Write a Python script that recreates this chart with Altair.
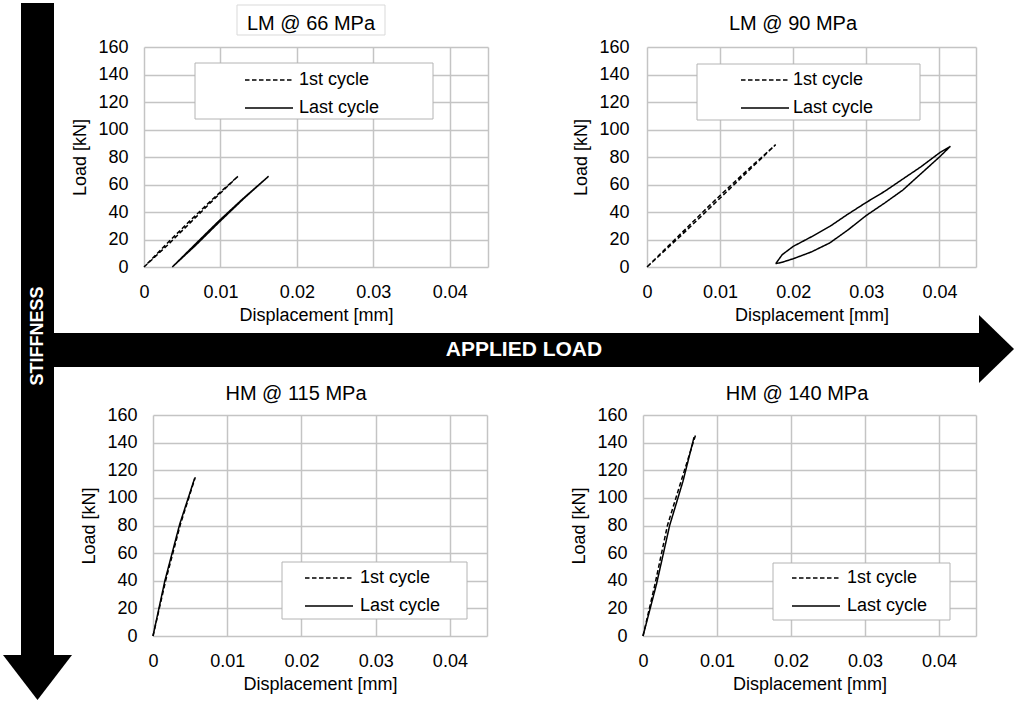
import altair as alt
import pandas as pd

FONT = "Liberation Sans"

CYCLES = ["1st cycle", "Last cycle"]
PANEL_TITLES = ["LM @ 66 MPa", "LM @ 90 MPa", "HM @ 115 MPa", "HM @ 140 MPa"]
X_TICKS = [0, 0.01, 0.02, 0.03, 0.04, 0.045]
Y_TICKS = [0, 20, 40, 60, 80, 100, 120, 140, 160]
ARROW_LABELS = ["APPLIED LOAD", "STIFFNESS"]

# LM @ 66 MPa
lm66_first_disp = [0.0000, 0.0031, 0.0062, 0.0093, 0.0123, 0.0091, 0.0059, 0.0028, 0.0000]
lm66_first_load = [0, 16, 33, 50, 66, 50, 33, 16, 0]
lm66_last_disp = [0.0037, 0.0068, 0.0099, 0.0131, 0.0163, 0.0130, 0.0097, 0.0066, 0.0037]
lm66_last_load = [0, 16, 33, 50, 66, 50, 33, 16, 0]

# LM @ 90 MPa
lm90_first_disp = [0.0000, 0.0045, 0.0090, 0.0133, 0.0176, 0.0130, 0.0086, 0.0042, 0.0000]
lm90_first_load = [0, 22, 45, 67, 89, 67, 45, 22, 0]
lm90_last_disp = [0.0176, 0.0185, 0.0200, 0.0225, 0.0250, 0.0275, 0.0300, 0.0325, 0.0350, 0.0375, 0.0400, 0.0415,
                  0.0400, 0.0375, 0.0350, 0.0325, 0.0300, 0.0275, 0.0250, 0.0225, 0.0200, 0.0185, 0.0176]
lm90_last_load = [2.4, 9, 15, 22, 29.5, 38.5, 47, 55, 64, 73, 83, 87.8,
                  80, 68, 56, 46.5, 37.5, 27, 17.5, 11, 6, 3.5, 2.4]

# HM @ 115 MPa
hm115_first_disp = [0.0000, 0.0017, 0.0037, 0.0057]
hm115_first_load = [0, 40, 81, 115]
hm115_last_disp = [0.0000, 0.0016, 0.0036, 0.0056]
hm115_last_load = [0, 40, 81, 114]

# HM @ 140 MPa
hm140_first_disp = [0.0000, 0.0016, 0.0033, 0.0052, 0.0071]
hm140_first_load = [0, 37, 80, 113, 145.5]
hm140_last_disp = [0.0000, 0.0018, 0.0036, 0.0054, 0.0069]
hm140_last_load = [0, 37, 80, 112, 144]

one = pd.DataFrame({"k": [0]})


def cycle_frame(disp, load, cycle):
    return pd.DataFrame({"disp": disp, "load": load, "cycle": cycle,
                         "step": list(range(len(disp)))})


def panel(title, first, last, width, height, x_range, y_offset, y_label_pad,
          title_pos, box, leg, x_title_x):
    df = pd.concat([cycle_frame(first[0], first[1], CYCLES[0]),
                    cycle_frame(last[0], last[1], CYCLES[1])], ignore_index=True)
    legend = alt.Legend(
        title=None, orient="none", legendX=leg[0], legendY=leg[1], padding=0,
        symbolType="stroke", symbolSize=2304, symbolStrokeWidth=1.5,
        symbolStrokeColor="black", labelOffset=leg[2],
        clipHeight=18, rowPadding=10, labelFont=FONT, labelFontSize=18,
        labelColor="black",
    )
    xscale = alt.Scale(domain=[0, 0.045], nice=False, zero=True, range=x_range)
    lines = alt.Chart(df).mark_line(color="black", strokeWidth=1.5).encode(
        x=alt.X("disp:Q", scale=xscale,
                axis=alt.Axis(values=X_TICKS, format="~g", title="Displacement [mm]",
                              titleX=x_title_x,
                              labelExpr="datum.value > 0.044 ? '' : datum.label")),
        y=alt.Y("load:Q", scale=alt.Scale(domain=[0, 160], nice=False),
                axis=alt.Axis(values=Y_TICKS, title="Load [kN]", labelPadding=y_label_pad,
                              offset=y_offset)),
        strokeDash=alt.StrokeDash("cycle:N",
                                  scale=alt.Scale(domain=CYCLES, range=[[4.5, 2.5], [1, 0]]),
                                  legend=legend),
        order="step:Q",
    )
    legend_box = alt.Chart(one).mark_rect(fill="white", stroke="#b4b4b4", strokeWidth=1).encode(
        x=alt.value(box[0]), x2=alt.value(box[2]), y=alt.value(box[1]), y2=alt.value(box[3]))
    title_text = alt.Chart(pd.DataFrame({"t": [title]})).mark_text(
        font=FONT, fontSize=20, color="black", align="center", baseline="alphabetic").encode(
        text="t:N", x=alt.value(title_pos[0]), y=alt.value(title_pos[1]))
    return [legend_box, title_text, lines]


# panel 1 with the decorations (positions relative to its plot origin at 144, 47)
layers1 = panel(PANEL_TITLES[0], (lm66_first_disp, lm66_first_load),
                (lm66_last_disp, lm66_last_load), 344, 220, [0, 344], 0, 16,
                (167, -17), (51, 16, 289, 72), (100, 24, 5), 172)
canvas = alt.Chart(one).mark_rect(opacity=0).encode(
    x=alt.value(-144), x2=alt.value(872), y=alt.value(-47), y2=alt.value(655))
title_box = alt.Chart(one).mark_rect(fillOpacity=0, stroke="#d9d9d9", strokeWidth=1).encode(
    x=alt.value(93), x2=alt.value(241), y=alt.value(-42), y2=alt.value(-12))
v_shaft = alt.Chart(one).mark_rect(color="black").encode(
    x=alt.value(-123), x2=alt.value(-90), y=alt.value(-44), y2=alt.value(608))
h_shaft = alt.Chart(one).mark_rect(color="black").encode(
    x=alt.value(-90), x2=alt.value(835), y=alt.value(286), y2=alt.value(320))
h_head = alt.Chart(one).mark_point(shape="M -0.515 -1 L 0.515 0 L -0.515 1 Z", filled=True,
                                   color="black", opacity=1, size=4624, strokeWidth=0).encode(
    x=alt.value(852.5), y=alt.value(302))
v_head = alt.Chart(one).mark_point(shape="M -1 -0.652 L 1 -0.652 L 0 0.652 Z", filled=True,
                                   color="black", opacity=1, size=4761, strokeWidth=0).encode(
    x=alt.value(-106.5), y=alt.value(630.5))
arrow_text = pd.DataFrame({"label": ARROW_LABELS})
h_label = alt.Chart(arrow_text).transform_filter(alt.datum.label == ARROW_LABELS[0]).mark_text(
    font=FONT, fontWeight="bold", fontSize=21, color="white", align="center", baseline="middle").encode(
    text="label:N", x=alt.value(380), y=alt.value(303))
v_label = alt.Chart(arrow_text).transform_filter(alt.datum.label == ARROW_LABELS[1]).mark_text(
    font=FONT, fontWeight="bold", fontSize=18, color="white", align="center", baseline="middle",
    angle=270).encode(
    text="label:N", x=alt.value(-106.5), y=alt.value(289))

p1 = alt.layer(canvas, title_box, *layers1, v_shaft, h_shaft, h_head, v_head,
               h_label, v_label).properties(width=344, height=220)

# panel 2 (plot origin 647, 47)
p2 = alt.layer(*panel(PANEL_TITLES[1], (lm90_first_disp, lm90_first_load),
                      (lm90_last_disp, lm90_last_load), 329, 220, [0, 329], 0, 18,
                      (146, -17), (50, 17, 273, 73), (93, 24, 3), 164.5)).properties(width=329, height=220)

# panel 3 (cell origin 144, 415; plot starts 9 px in)
p3 = alt.layer(*panel(PANEL_TITLES[2], (hm115_first_disp, hm115_first_load),
                      (hm115_last_disp, hm115_last_load), 343, 221, [9, 343], -9, 16,
                      (152, -15), (138, 147, 323, 204), (160, 154, 6), 176)).properties(width=343, height=221)

# panel 4 (cell origin 647, 415; plot starts 4 px before)
p4 = alt.layer(*panel(PANEL_TITLES[3], (hm140_first_disp, hm140_first_load),
                      (hm140_last_disp, hm140_last_load), 329, 221, [-4, 329], 4, 16,
                      (150, -15), (126, 148, 303, 205), (144, 154, 6), 162.5)).properties(width=329, height=221)

chart = alt.concat(p1, p2, p3, p4, columns=2, bounds="flush",
                   spacing={"row": 148, "column": 159}).resolve_legend(
    strokeDash="independent").properties(padding=0, background="white").configure(
    font=FONT).configure_axis(
    labelFont=FONT, labelFontSize=18, labelColor="black", titleFont=FONT, titleFontSize=18,
    titleFontWeight="normal", titleColor="black", gridColor="#c4c4c4", gridWidth=1.5,
    domain=False, ticks=False, labelFlush=False, labelOverlap=False).configure_axisX(
    labelPadding=16, titlePadding=5).configure_axisY(titlePadding=8).configure_view(
    strokeOpacity=0)

chart.save("out.html", embed_options={"renderer": "svg", "actions": False})
